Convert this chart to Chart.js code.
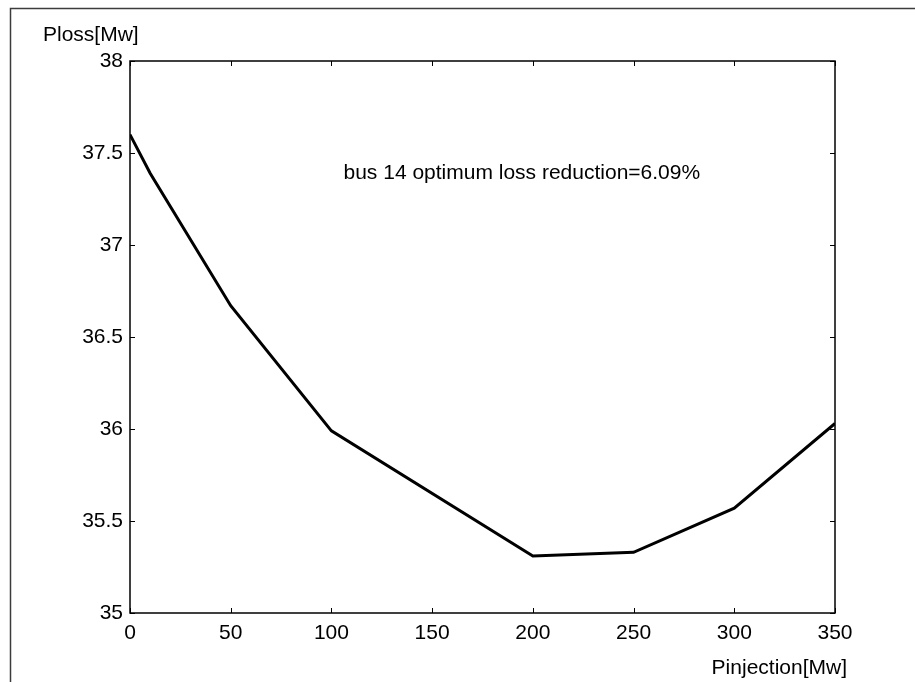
<!DOCTYPE html>
<html>
<head>
<meta charset="utf-8">
<script src="https://cdn.jsdelivr.net/npm/chart.js@4.4.0/dist/chart.umd.min.js"></script>
<style>
	body { margin: 0; background: #fff; }
	canvas { display: block; }
</style>
</head>
<body>
<canvas id="chartViwe" width="915" height="682"></canvas>
<script>
var injection = [0, 10, 50, 100, 200, 250, 300, 350];
var ploss = [37.6, 37.39, 36.67, 35.99, 35.31, 35.33, 35.57, 36.03];
var xTicks = [0, 50, 100, 150, 200, 250, 300, 350];
var yTicks = [35, 35.5, 36, 36.5, 37, 37.5, 38];
var xTitle = 'Pinjection[Mw]';
var yTitle = 'Ploss[Mw]';
var note = 'bus 14 optimum loss reduction=6.09%';

var fontName = '"Liberation Sans", Arial, Helvetica, sans-serif';

// matlab like frame, inward ticks, titles and the note
var matlabBox = {
	id: 'matlabBox',
	afterDraw: function (chart) {
		var ctx = chart.ctx;
		var a = chart.chartArea;
		var xs = chart.scales.x;
		var ys = chart.scales.y;
		ctx.save();

		// outer figure frame (only top/left visible)
		ctx.strokeStyle = '#3c3c3c';
		ctx.lineWidth = 1.5;
		ctx.beginPath();
		ctx.moveTo(10.5, 682);
		ctx.lineTo(10.5, 8.5);
		ctx.lineTo(915, 8.5);
		ctx.stroke();

		// axes box
		ctx.strokeStyle = '#000';
		ctx.lineWidth = 1.5;
		ctx.strokeRect(a.left, a.top, a.right - a.left, a.bottom - a.top);

		// ticks inside
		ctx.lineWidth = 1;
		ctx.beginPath();
		xTicks.forEach(function (v) {
			var px = Math.round(xs.getPixelForValue(v)) + 0.5;
			ctx.moveTo(px, a.bottom);
			ctx.lineTo(px, a.bottom - 5);
			ctx.moveTo(px, a.top);
			ctx.lineTo(px, a.top + 5);
		});
		yTicks.forEach(function (v) {
			var py = Math.round(ys.getPixelForValue(v)) + 0.5;
			ctx.moveTo(a.left, py);
			ctx.lineTo(a.left + 5, py);
			ctx.moveTo(a.right, py);
			ctx.lineTo(a.right - 5, py);
		});
		ctx.stroke();

		ctx.fillStyle = '#000';
		ctx.font = '21px ' + fontName;
		ctx.textBaseline = 'middle';

		ctx.textAlign = 'left';
		ctx.fillText(yTitle, 43, 35);

		ctx.textAlign = 'right';
		ctx.fillText(xTitle, 847, 668);

		ctx.textAlign = 'left';
		ctx.fillText(note, xs.getPixelForValue(106), ys.getPixelForValue(37.39));

		ctx.restore();
	}
};

var ctx = document.getElementById('chartViwe').getContext('2d');

var chart = new Chart(ctx, {
	type: 'line',
	data: {
		datasets: [
			{
				label: yTitle,
				data: injection.map(function (x, i) {
					return { x: x, y: ploss[i] };
				}),
				borderColor: '#000',
				backgroundColor: 'transparent',
				borderWidth: 3,
				pointRadius: 0,
				tension: 0
			}
		]
	},
	options: {
		responsive: false,
		animation: false,
		devicePixelRatio: 1,
		layout: {
			padding: { left: 0, right: 80, top: 61, bottom: 0 }
		},
		plugins: {
			legend: { display: false },
			tooltip: { enabled: false }
		},
		scales: {
			x: {
				type: 'linear',
				min: 0,
				max: 350,
				afterBuildTicks: function (scale) {
					scale.ticks = xTicks.map(function (v) { return { value: v }; });
				},
				afterFit: function (scale) {
					scale.height = 69;
				},
				grid: { display: false, drawTicks: false },
				border: { display: false },
				ticks: {
					padding: 8,
					color: '#000',
					maxRotation: 0,
					font: { family: fontName, size: 21 },
					callback: function (v) { return v + ''; }
				}
			},
			y: {
				type: 'linear',
				min: 35,
				max: 38,
				afterBuildTicks: function (scale) {
					scale.ticks = yTicks.map(function (v) { return { value: v }; });
				},
				afterFit: function (scale) {
					scale.width = 130;
				},
				grid: { display: false, drawTicks: false },
				border: { display: false },
				ticks: {
					padding: 7,
					color: '#000',
					font: { family: fontName, size: 21 },
					callback: function (v) { return v + ''; }
				}
			}
		}
	},
	plugins: [matlabBox]
});
</script>
</body>
</html>
